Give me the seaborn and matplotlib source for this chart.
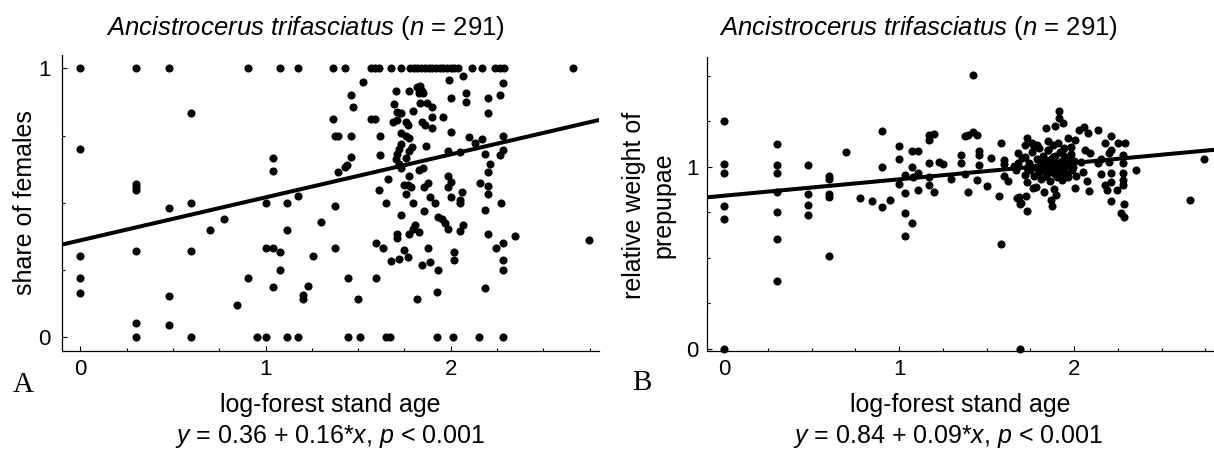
import matplotlib
matplotlib.use("Agg")
import matplotlib.pyplot as plt
from matplotlib.ticker import MultipleLocator
import numpy as np
import seaborn as sns

# ---------------------------------------------------------------- data
# Panel A: share of females per nest vs log10 forest stand age
females_age = [
    0, 0, 0, 0, 0,
    0.30, 0.30, 0.30, 0.30, 0.30, 0.30, 0.30,
    0.477, 0.477, 0.477, 0.477,
    0.60, 0.60, 0.60, 0.60,
    0.70, 0.778, 0.845, 0.903, 0.903, 0.954,
    1.0, 1.0, 1.0,
    1.041, 1.041, 1.041, 1.041,
    1.079, 1.079, 1.079,
    1.114, 1.114, 1.114,
    1.176, 1.176, 1.176,
    1.204, 1.204, 1.23, 1.255, 1.30,
    1.362, 1.362, 1.375, 1.375, 1.375, 1.393, 1.393, 1.428, 1.428, 1.438,
    1.443, 1.443, 1.46, 1.46, 1.46, 1.473, 1.50, 1.511, 1.527,
    1.569, 1.572, 1.59, 1.59, 1.596, 1.596, 1.61, 1.61, 1.62, 1.62, 1.632,
    1.65, 1.65, 1.659, 1.672, 1.677, 1.677,
    1.69, 1.696, 1.705, 1.705, 1.71, 1.71, 1.71, 1.71, 1.71, 1.72, 1.72, 1.721,
    1.734, 1.734, 1.734, 1.734, 1.734, 1.734,
    1.75, 1.75, 1.757, 1.757, 1.76, 1.76, 1.768, 1.768, 1.77, 1.775, 1.775,
    1.775, 1.775, 1.775,
    1.787, 1.79, 1.797, 1.797, 1.797, 1.806, 1.815, 1.818,
    1.83, 1.83, 1.83, 1.833, 1.835, 1.842, 1.842, 1.845, 1.85, 1.85, 1.854,
    1.854, 1.86, 1.865, 1.869, 1.878, 1.878, 1.887, 1.887, 1.896,
    1.90, 1.90, 1.914, 1.923, 1.924, 1.932, 1.932, 1.955, 1.958, 1.968,
    1.985, 1.985, 1.985, 1.985, 1.99,
    2.0, 2.0, 2.0, 2.0, 2.01, 2.016, 2.018, 2.048, 2.048, 2.05, 2.05, 2.063,
    2.065, 2.068, 2.08, 2.08,
    2.10, 2.117, 2.13, 2.15, 2.156, 2.17, 2.17, 2.187, 2.187, 2.187,
    2.20, 2.20, 2.20, 2.20, 2.20, 2.20, 2.21,
    2.237, 2.246, 2.264, 2.264, 2.264, 2.27, 2.28, 2.28, 2.28, 2.28, 2.28,
    2.28, 2.28, 2.286,
    2.347, 2.658, 2.748,
    1.78, 1.80, 1.82, 1.84, 1.86, 1.88, 1.90, 1.92, 1.94, 1.96, 1.98, 2.0,
    2.02, 2.04,
]
females_share = [
    1, 0.70, 0.30, 0.22, 0.165,
    1, 0.571, 0.559, 0.547, 0.32, 0.052, 0,
    1, 0.48, 0.153, 0.046,
    0.835, 0.50, 0.32, 0,
    0.40, 0.438, 0.12, 1, 0.22, 0,
    0.5, 0.333, 0,
    0.668, 0.619, 0.333, 0.186,
    1, 0.317, 0.251,
    0.5, 0.4, 0,
    1, 0.524, 0,
    0.155, 0.143, 0.19, 0.30, 0.428,
    1, 0.812, 0.333, 0.487, 0.75, 0.75, 0.615, 1, 0.634, 0.64,
    0.221, 0, 0.90, 0.75, 0.669, 0.857, 0.143, 0, 0.948,
    1, 0.812, 1, 0.812, 0.35, 0.221, 1, 0.547, 0.75, 0.676, 0.333,
    0.50, 0, 0.59, 0, 1, 0.283,
    0.80, 0.867, 0.917, 0.661, 0.839, 0.808, 0.681, 0.385, 0.369, 0.70, 0.646,
    0.291,
    1, 0.833, 0.758, 0.718, 0.628, 0.453,
    0.565, 0.323, 0.80, 0.748, 0.667, 0.532, 0.565, 0.298, 0.79, 0.917, 0.74,
    0.693, 0.599, 0.385,
    0.559, 0.706, 0.842, 0.50, 0.404, 0.416, 0.143, 0.93,
    0.91, 0.621, 0.391, 0.87, 0.935, 0.80, 0.267, 0.917, 0.91, 0.628, 0.557,
    0.468, 0.79, 0.711, 0.87, 0.572, 0.333, 0.522, 0.28, 0.857,
    0.82, 0.78, 0.50, 0.167, 0, 0.447, 0.251, 0.438, 0.818, 0.423,
    0.693, 0.599, 0.557, 0.401, 0.957,
    0.889, 0.764, 0.578, 0.522, 0, 0.318, 0.286, 0.688, 0.394, 0.51, 0.50, 0.54,
    0.972, 0.416, 0.909, 0.876,
    0.743, 1, 0.723, 0, 0.572, 1, 0.736, 0.681, 0.472, 0.181,
    0.889, 0.835, 0.615, 0.562, 0.534, 0.385, 0.644,
    1, 0.333, 1, 0.90, 0.677, 0.50, 0.944, 0.748, 0.696, 0.35, 0.286,
    0.251, 0, 1,
    0.375, 1, 0.36,
    1, 1, 1, 1, 1, 1, 1, 1, 1, 1, 1, 1,
    1, 1,
]

# Panel B: relative weight of prepupae vs log10 forest stand age
weight_age = [
    0, 0, 0, 0, 0, 0,
    0.30, 0.30, 0.30, 0.30, 0.30, 0.30, 0.30,
    0.477, 0.477, 0.477, 0.477,
    0.60, 0.60, 0.60, 0.60, 0.60,
    0.697, 0.776, 0.845, 0.904, 0.904, 0.904, 0.95,
    0.997, 0.997, 0.997,
    1.036, 1.036, 1.036, 1.036,
    1.076, 1.076, 1.076, 1.08,
    1.109, 1.109, 1.109,
    1.169, 1.169, 1.169, 1.169, 1.169,
    1.202, 1.202, 1.23, 1.252, 1.294,
    1.356, 1.356, 1.378, 1.378, 1.394, 1.394,
    1.422, 1.422, 1.444, 1.444, 1.455, 1.455, 1.455,
    1.50, 1.526, 1.572, 1.583, 1.583, 1.599, 1.599, 1.599, 1.621, 1.654,
    1.676, 1.691, 1.691,
    1.916, 1.916, 1.935, 1.842, 1.889,
    2.057, 2.026, 2.08, 2.137,
    2.21, 2.175, 2.252, 2.29, 2.213,
    1.73, 1.76, 1.72, 1.77, 1.79,
    1.683, 1.698, 1.733, 1.727, 1.765, 1.784, 1.828, 1.87, 1.874, 1.885,
    1.899, 2.003, 2.074, 2.083, 2.152, 2.179, 2.19, 2.21, 2.21, 2.248, 2.21,
    2.286, 2.271, 2.286,
    2.28, 2.28, 2.28, 2.28, 2.28, 2.353,
    2.20, 2.20, 2.137, 2.156, 2.04, 2.05, 2.06, 2.09,
    1.975, 1.994, 1.966, 1.93, 1.95, 1.91, 1.93, 1.966, 1.985, 2.003, 1.85, 1.85,
    1.68, 1.70, 1.677, 1.667, 1.733, 1.72,
    1.72, 1.74, 1.75, 1.76, 1.77, 1.78, 1.79, 1.80, 1.80, 1.81, 1.82, 1.82,
    1.83, 1.84, 1.84, 1.85, 1.85, 1.86, 1.86, 1.87, 1.87, 1.88, 1.88, 1.89,
    1.89, 1.90, 1.90, 1.91, 1.92, 1.92, 1.93, 1.94, 1.94, 1.95, 1.96, 1.97,
    1.98, 1.99, 2.00, 2.01, 1.73, 1.76, 1.79, 1.81, 1.83, 1.86, 1.88, 1.91,
    1.93, 1.96,
    2.66, 2.74,
]
weight_rel = [
    1.25, 1.013, 0.967, 0.785, 0.712, 0,
    1.126, 1.007, 0.967, 0.861, 0.748, 0.602, 0.369,
    1.007, 0.849, 0.79, 0.735,
    0.949, 0.931, 0.849, 0.834, 0.507,
    1.08, 0.825, 0.812, 1.195, 0.998, 0.776, 0.819,
    1.113, 1.04, 0.903,
    0.954, 0.854, 0.745, 0.62,
    1.086, 0.998, 0.688, 0.945,
    1.086, 0.964, 0.87,
    1.172, 1.144, 1.018, 0.94, 0.898,
    1.18, 0.858, 1.027, 1.016, 0.929,
    1.064, 1.022, 1.168, 0.958, 0.863, 1.172,
    1.505, 1.19, 1.172, 0.925, 1.086, 1.064, 1.009,
    0.894, 1.046, 0.839, 1.128, 0.575, 1.035, 1.013, 0.949, 0.922, 1.004,
    0.83, 0, 0.794,
    1.306, 1.266, 1.238, 1.211, 1.223,
    1.22, 1.201, 1.183, 1.201,
    1.168, 1.128, 1.128, 1.132, 1.091,
    1.157, 1.13, 1.12, 1.107, 1.12,
    0.834, 0.798, 0.756, 0.84, 0.88, 0.886, 0.862, 0.816, 0.783, 0.875,
    0.844, 0.88, 0.921, 0.867, 0.959, 0.899, 0.871, 0.966, 0.917, 0.871, 0.811,
    0.794, 0.743, 0.721,
    0.899, 0.926, 0.966, 1.021, 1.064, 0.981,
    1.027, 1.073, 1.018, 1.04, 1.027, 0.972, 1.091, 1.073,
    1.054, 0.999, 0.944, 0.926, 0.954, 1.128, 1.073, 1.156, 1.11, 1.146, 1.138,
    1.091,
    1.073, 1.046, 1.018, 0.981, 0.917, 0.954,
    1.05, 1.02, 0.98, 1.08, 0.95, 1.00, 1.04, 0.97, 1.10, 0.93, 1.01, 1.06,
    0.98, 0.95, 1.03, 1.00, 1.09, 0.97, 0.92, 1.04, 1.01, 0.99, 1.12, 0.96,
    1.06, 1.02, 0.94, 1.00, 1.08, 0.97, 1.03, 0.99, 1.10, 1.05, 0.96, 1.01,
    1.07, 0.98, 1.03, 0.95, 0.99, 1.00, 0.99, 1.02, 1.04, 1.00, 1.05, 0.98,
    1.00, 1.02,
    0.816, 1.044,
]

# fitted regressions: (intercept, slope)
females_fit = (0.36, 0.16)
weight_fit = (0.84, 0.09)

x_range = (-0.1, 2.8)

# ---------------------------------------------------------------- style
sns.set_theme(style="ticks")
plt.rcParams["font.family"] = ["Liberation Sans", "DejaVu Sans"]
plt.rcParams["mathtext.fontset"] = "custom"
plt.rcParams["mathtext.rm"] = "Liberation Sans"
plt.rcParams["mathtext.it"] = "Liberation Sans:italic"
plt.rcParams["text.color"] = "black"
plt.rcParams["axes.labelcolor"] = "black"
plt.rcParams["xtick.color"] = "black"
plt.rcParams["ytick.color"] = "black"

W, H = 1214, 450
fig = plt.figure(figsize=(W / 100, H / 100), dpi=100)


def px_axes(left, top, right, bottom):
    return fig.add_axes([left / W, 1 - bottom / H, (right - left) / W, (bottom - top) / H])


def ftext(x, y, s, **kw):
    fig.text(x / W, 1 - y / H, s, color="black", **kw)


def panel(ax, xs, ys, fit, ylim, yminor, ypad):
    sns.scatterplot(x=xs, y=ys, ax=ax, color="black", s=34, linewidth=0,
                    zorder=3, clip_on=False)
    lx = np.array(x_range)
    sns.lineplot(x=lx, y=fit[0] + fit[1] * lx, ax=ax, color="black",
                 linewidth=2.9, zorder=4)
    ax.set_xlim(*x_range)
    ax.set_ylim(*ylim)
    ax.set_xticks([0, 1, 2])
    ax.set_yticks([0, 1])
    ax.xaxis.set_minor_locator(MultipleLocator(0.25))
    ax.yaxis.set_minor_locator(MultipleLocator(yminor))
    ax.tick_params(which="both", direction="in", color="black", width=0.8,
                   labelsize=16, labelcolor="black")
    ax.tick_params(which="major", length=3.5)
    ax.tick_params(which="minor", length=2)
    ax.tick_params(axis="x", pad=6)
    ax.tick_params(axis="y", pad=ypad)
    ax.set_xlabel("")
    ax.set_ylabel("")
    sns.despine(ax=ax)
    for side in ("left", "bottom"):
        ax.spines[side].set_linewidth(0.9)
        ax.spines[side].set_color("black")


axA = px_axes(61.7, 55, 599, 350.5)
panel(axA, females_age, females_share, females_fit, (-0.05, 1.05), 0.25, 8)

axB = px_axes(706.7, 57.3, 1214, 350.5)
panel(axB, weight_age, weight_rel, weight_fit, (-0.01, 1.6), 0.25, 6)

title = r"$Ancistrocerus\ trifasciatus$ ($n$ = 291)"
ftext(305, 35, title, ha="center", va="baseline", fontsize=18.5)
ftext(918, 35, title, ha="center", va="baseline", fontsize=18.5)

ftext(330, 412, "log-forest stand age", ha="center", va="baseline", fontsize=18)
ftext(960, 412, "log-forest stand age", ha="center", va="baseline", fontsize=18)

ftext(330, 443, r"$y$ = 0.36 + 0.16*$x$, $p$ < 0.001", ha="center",
      va="baseline", fontsize=18)
ftext(948, 443, r"$y$ = 0.84 + 0.09*$x$, $p$ < 0.001", ha="center",
      va="baseline", fontsize=18)

ftext(25, 203, "share of females", rotation=90, ha="center", va="center",
      fontsize=18)
ftext(649, 205, "relative weight of\nprepupae", rotation=90, ha="center",
      va="center", fontsize=18, linespacing=1.3, multialignment="center")

ftext(23, 392, "A", ha="center", va="baseline", fontsize=21,
      family="Liberation Serif")
ftext(642, 390, "B", ha="center", va="baseline", fontsize=21,
      family="Liberation Serif")

fig.savefig("out.png", dpi=100, facecolor="white")
